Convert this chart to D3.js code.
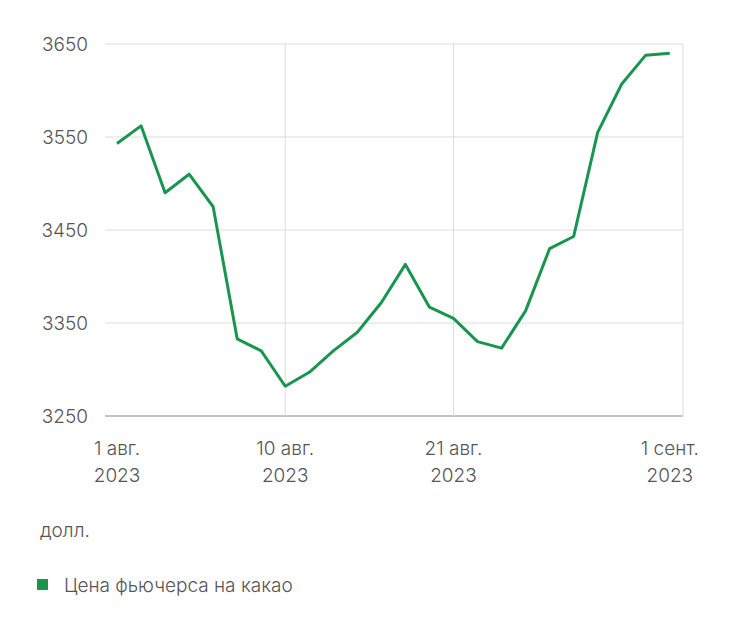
<!DOCTYPE html>
<html><head><meta charset="utf-8">
<script src="https://cdn.jsdelivr.net/npm/d3@7"></script>
<style>body{margin:0;background:#fff;font-family:Inter,"Open Sans",sans-serif}</style>
</head><body><svg id="c" width="742" height="630"></svg>
<script>
const days = ["1 авг.","2","3","4","7","8","9","10 авг.","11","14","15","16","17","18","21 авг.","22","23","24","25","28","29","30","31","1 сент."];
const prices = [3543,3562,3490,3510,3475,3333,3320,3282,3297,3320,3340,3372,3413,3367,3355,3330,3323,3363,3430,3443,3555,3607,3638,3640];
const yTicks = [3250,3350,3450,3550,3650];
const xTickIdx = [0,7,14,23];
const xTickLabels = [["1 авг.","2023"],["10 авг.","2023"],["21 авг.","2023"],["1 сент.","2023"]];
const svg = d3.select("#c");
const x = d3.scaleLinear().domain([-0.5,23.55]).range([105,683]);
const y = d3.scaleLinear().domain([3250,3650]).range([416,44]);
const grid="#dcdcdc", txt="#555", fs=19;
svg.selectAll(".hg").data(yTicks).join("line").attr("x1",105).attr("x2",683)
 .attr("y1",d=>y(d)).attr("y2",d=>y(d)).attr("stroke",d=>d===3250?"#888":grid);
svg.selectAll(".vg").data([7,14]).join("line").attr("x1",d=>x(d)).attr("x2",d=>x(d))
 .attr("y1",44).attr("y2",416).attr("stroke",grid);
svg.append("line").attr("x1",683).attr("x2",683).attr("y1",44).attr("y2",416).attr("stroke",grid);
svg.selectAll(".yl").data(yTicks).join("text").attr("x",88).attr("y",d=>y(d)+7)
 .attr("text-anchor","end").attr("fill",txt).attr("font-size",fs).attr("font-weight",300).text(d=>d);
xTickIdx.forEach((i,k)=>{
  const t=svg.append("text").attr("fill",txt).attr("font-size",fs).attr("font-weight",300).attr("text-anchor","middle");
  t.append("tspan").attr("x",x(i)).attr("y",455).text(xTickLabels[k][0]);
  t.append("tspan").attr("x",x(i)).attr("y",482).text(xTickLabels[k][1]);
});
svg.append("path").datum(prices).attr("fill","none").attr("stroke","#1a9550").attr("stroke-width",3)
 .attr("stroke-linejoin","round").attr("d",d3.line().x((d,i)=>x(i)).y(d=>y(d)));
svg.append("text").attr("x",40).attr("y",537).attr("fill",txt).attr("font-size",fs).attr("font-weight",300).text("долл.");
svg.append("rect").attr("x",37).attr("y",579).attr("width",11).attr("height",11).attr("fill","#1a9550");
svg.append("text").attr("x",64).attr("y",592).attr("fill",txt).attr("font-size",fs).attr("font-weight",300).text("Цена фьючерса на какао");
</script></body></html>
